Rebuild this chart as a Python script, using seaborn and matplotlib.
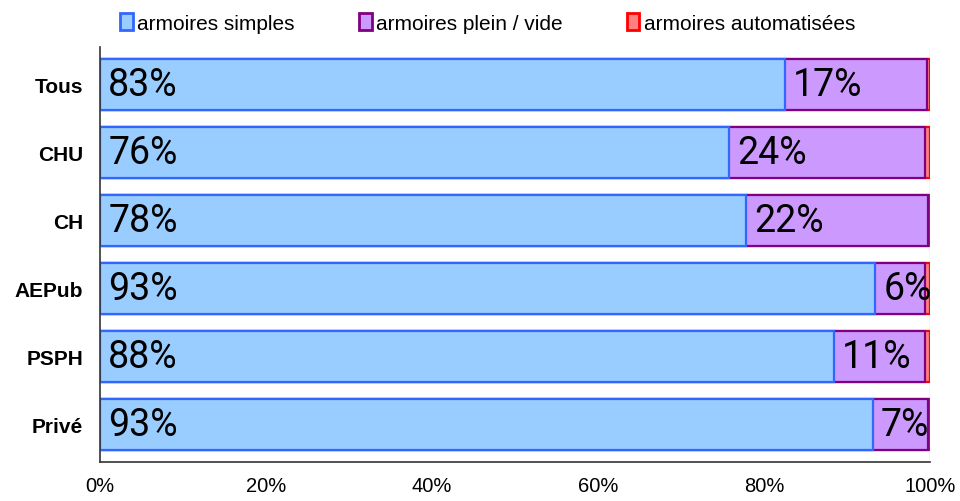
import matplotlib
matplotlib.use("Agg")
import matplotlib.pyplot as plt
import seaborn as sns
import pandas as pd
from matplotlib.patches import Patch

categories = ["Tous", "CHU", "CH", "AEPub", "PSPH", "Privé"]
simples = [82.5, 75.8, 77.8, 93.4, 88.4, 93.1]
plein_vide = [17.1, 23.6, 22.0, 6.0, 11.0, 6.7]
automatisees = [0.4, 0.6, 0.2, 0.6, 0.6, 0.2]
labels_simples = ["83%", "76%", "78%", "93%", "88%", "93%"]
labels_plein = ["17%", "24%", "22%", "6%", "11%", "7%"]
series_names = ["armoires simples", "armoires plein / vide", "armoires automatisées"]

sns.set_style("white")
plt.rcParams['font.family'] = ['Liberation Sans', 'DejaVu Sans']
plt.rcParams['text.color'] = 'black'
plt.rcParams['xtick.color'] = 'black'
plt.rcParams['ytick.color'] = 'black'

df = pd.DataFrame({"cat": categories, "simples": simples,
                   "plein": plein_vide, "auto": automatisees})
df["c2"] = df["simples"] + df["plein"]
df["c3"] = df["c2"] + df["auto"]

fig = plt.figure(figsize=(9.6, 5.02), dpi=100)
ax = fig.add_axes([100 / 960, 1 - 463 / 502, 830 / 960, 415 / 502])

fills = ["#99CCFF", "#CC99FF", "#FF8080"]
edges = ["#3366FF", "#800080", "#FF0000"]

# draw cumulative bars back to front so they look stacked
for col, fc, ec in [("c3", fills[2], edges[2]), ("c2", fills[1], edges[1]),
                    ("simples", fills[0], edges[0])]:
    sns.barplot(data=df, x=col, y="cat", orient="h", color=fc, edgecolor=ec,
                linewidth=1.6, width=0.76, saturation=1, ax=ax)

label_font = ['Roboto', 'DejaVu Sans']
for i in range(len(categories)):
    ax.text(1.0, i, labels_simples[i], va="center", ha="left",
            fontsize=27, family=label_font, color="black")
    ax.text(simples[i] + 1.0, i, labels_plein[i], va="center", ha="left",
            fontsize=27, family=label_font, color="black")

ax.set_xlim(0, 100)
ax.set_ylim(5.55, -0.55)
ax.axvline(100, color="#cccccc", lw=1, zorder=0)
ax.set_xticks([0, 20, 40, 60, 80, 100])
ax.set_xticklabels(["0%", "20%", "40%", "60%", "80%", "100%"], fontsize=14.5)
ax.set_yticks(range(len(categories)))
ax.set_yticklabels(categories, fontsize=15, fontweight="bold")
ax.set_yticks([i - 0.5 for i in range(len(categories) + 1)], minor=True)
ax.tick_params(axis="y", which="major", length=0, pad=12)
ax.tick_params(axis="y", which="minor", length=6, color="#333333", direction="out")
ax.tick_params(axis="x", length=7, color="#333333", direction="out", pad=3)
ax.set_xlabel("")
ax.set_ylabel("")
for s in ["top", "right"]:
    ax.spines[s].set_visible(False)
for s in ["left", "bottom"]:
    ax.spines[s].set_color("#333333")
    ax.spines[s].set_linewidth(1.2)

handles = [Patch(facecolor=f, edgecolor=e, linewidth=2) for f, e in zip(fills, edges)]
fig.legend(handles, series_names, loc="upper center", bbox_to_anchor=(0.508, 1.01),
           ncol=3, frameon=False, fontsize=15, handlelength=0.6, handleheight=0.9,
           handletextpad=0.2, columnspacing=3.1)

fig.savefig("out.png", dpi=100)
